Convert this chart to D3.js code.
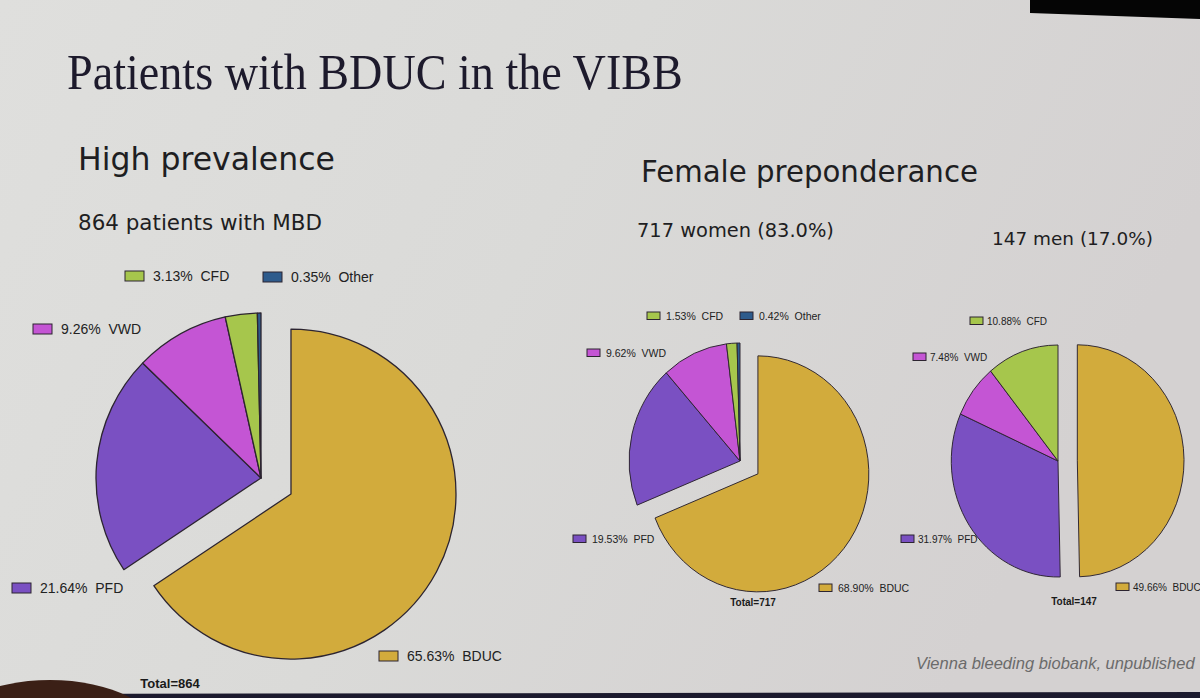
<!DOCTYPE html>
<html>
<head>
<meta charset="utf-8">
<script src="https://cdn.jsdelivr.net/npm/d3@7"></script>
<style>
  html, body { margin:0; padding:0; background:#d8d7d6; overflow:hidden; }
  svg { display:block; }
</style>
</head>
<body>
<svg id="slide" width="1200" height="698"></svg>
<script>
// data
var categories = ["BDUC", "PFD", "VWD", "CFD", "Other"];
var allPct   = [65.63, 21.64, 9.26, 3.13, 0.35];
var womenPct = [68.90, 19.53, 9.62, 1.53, 0.42];
var menPct   = [49.66, 31.97, 7.48, 10.88, 0];
var totals   = [864, 717, 147];

var colors = {BDUC:"#d2ab3c", PFD:"#7a50c2", VWD:"#c455d4", CFD:"#a6c64c", Other:"#2e5b8c"};

// layout of the three pies (centre, radius, x squash from the photo angle, explode, legend spots)
var charts = [
  {pct:allPct, total:totals[0], cx:261, cy:478, r:165, sx:1, explode:34, font:14, sw:19, sh:10, gap:28,
   totalPos:[170,688], totalFont:13,
   labels:{CFD:[125,271], Other:[263,272], VWD:[33,324], PFD:[12,583], BDUC:[379,651]}},
  {pct:womenPct, total:totals[1], cx:740, cy:461, r:118, sx:0.94, explode:23, font:10.5, sw:13, sh:7.5, gap:19,
   totalPos:[753,606], totalFont:10,
   labels:{CFD:[647,312], Other:[740,312], VWD:[587,349], PFD:[573,535], BDUC:[819,584]}},
  {pct:menPct, total:totals[2], cx:1058, cy:461, r:116, sx:0.92, explode:21, font:10, sw:13, sh:7.5, gap:17,
   totalPos:[1074,605], totalFont:10,
   labels:{CFD:[970,317], VWD:[913,353], PFD:[901,535], BDUC:[1116,583]}}
];

var svg = d3.select("#slide");

// photo backdrop
var defs = svg.append("defs");
var grad = defs.append("linearGradient").attr("id","bg").attr("x1","0").attr("x2","1").attr("y1","0").attr("y2","0.3");
grad.append("stop").attr("offset","0").attr("stop-color","#dfdfdd");
grad.append("stop").attr("offset","0.5").attr("stop-color","#dadad8");
grad.append("stop").attr("offset","1").attr("stop-color","#d4d1d1");
svg.append("rect").attr("width",1200).attr("height",698).attr("fill","url(#bg)");
svg.append("polygon").attr("points","1030,0 1200,0 1200,19 1030,13").attr("fill","#050505");
svg.append("polygon").attr("points","0,694 1200,692 1200,698 0,698").attr("fill","#1c1a2e");
svg.append("ellipse").attr("cx",50).attr("cy",738).attr("rx",112).attr("ry",58).attr("fill","#3b2016");

function fit(sel, w){
  var len = sel.node().getComputedTextLength();
  var fs = parseFloat(sel.attr("font-size"));
  sel.attr("font-size", (fs*w/len).toFixed(2));
}

var title = svg.append("text").attr("x",0).attr("y",0)
  .attr("transform","translate(67,89) scale(1,1.12)")
  .attr("font-family","'Liberation Serif', 'DejaVu Serif', serif")
  .attr("font-size",50).attr("fill","#1d1a2c")
  .text("Patients with BDUC in the VIBB");
fit(title, 616);

var heads = [
  {t:"High prevalence", x:78, y:170, w:257, fs:30},
  {t:"864 patients with MBD", x:78, y:230, w:244, fs:18},
  {t:"Female preponderance", x:641, y:182, w:337, fs:28},
  {t:"717 women (83.0%)", x:637, y:237, w:197, fs:18},
  {t:"147 men (17.0%)", x:992, y:245, w:161, fs:18}
];
heads.forEach(function(h){
  var s = svg.append("text").attr("x",h.x).attr("y",h.y)
    .attr("font-family","'DejaVu Sans', 'Open Sans', sans-serif")
    .attr("font-size",h.fs).attr("fill","#1e1e22").text(h.t);
  fit(s, h.w);
});

svg.append("text").attr("x",916).attr("y",669)
  .attr("font-family","'Liberation Sans', Arial, sans-serif")
  .attr("font-style","italic").attr("font-size",16.5).attr("fill","#6b6b6b")
  .text("Vienna bleeding biobank, unpublished");

var pie = d3.pie().sort(null).value(function(d){ return d.v; });

charts.forEach(function(c){
  var rows = categories.map(function(k,i){ return {k:k, v:c.pct[i]}; });
  var arcs = pie(rows).filter(function(a){ return a.data.v > 0; });
  var arc = d3.arc().innerRadius(0).outerRadius(c.r);
  var g = svg.append("g").attr("transform","translate("+c.cx+","+c.cy+") scale("+c.sx+",1)");

  g.selectAll("path").data(arcs).enter().append("path")
    .attr("d", arc)
    .attr("transform", function(a){
      if (a.data.k !== "BDUC") return null;
      var m = (a.startAngle + a.endAngle)/2;
      return "translate("+(Math.sin(m)*c.explode)+","+(-Math.cos(m)*c.explode)+")";
    })
    .attr("fill", function(a){ return colors[a.data.k]; })
    .attr("stroke","#2c2430").attr("stroke-width", c.r > 140 ? 1.3 : 1)
    .attr("stroke-linejoin","round");

  var leg = svg.append("g");
  arcs.forEach(function(a){
    var p = c.labels[a.data.k];
    if (!p) return;
    leg.append("rect").attr("x",p[0]).attr("y",p[1]).attr("width",c.sw).attr("height",c.sh)
      .attr("fill",colors[a.data.k]).attr("stroke","#2c2430").attr("stroke-width",1);
    leg.append("text").attr("x",p[0]+c.gap).attr("y",p[1]+c.sh)
      .attr("font-family","'Liberation Sans', Arial, sans-serif")
      .attr("font-size",c.font).attr("fill","#222")
      .attr("xml:space","preserve")
      .text(d3.format(".2f")(a.data.v)+"%  "+a.data.k);
  });

  svg.append("text").attr("x",c.totalPos[0]).attr("y",c.totalPos[1])
    .attr("text-anchor","middle")
    .attr("font-family","'Liberation Sans', Arial, sans-serif")
    .attr("font-weight","bold").attr("font-size",c.totalFont).attr("fill","#1a1a1a")
    .text("Total="+c.total);
});
</script>
</body>
</html>
